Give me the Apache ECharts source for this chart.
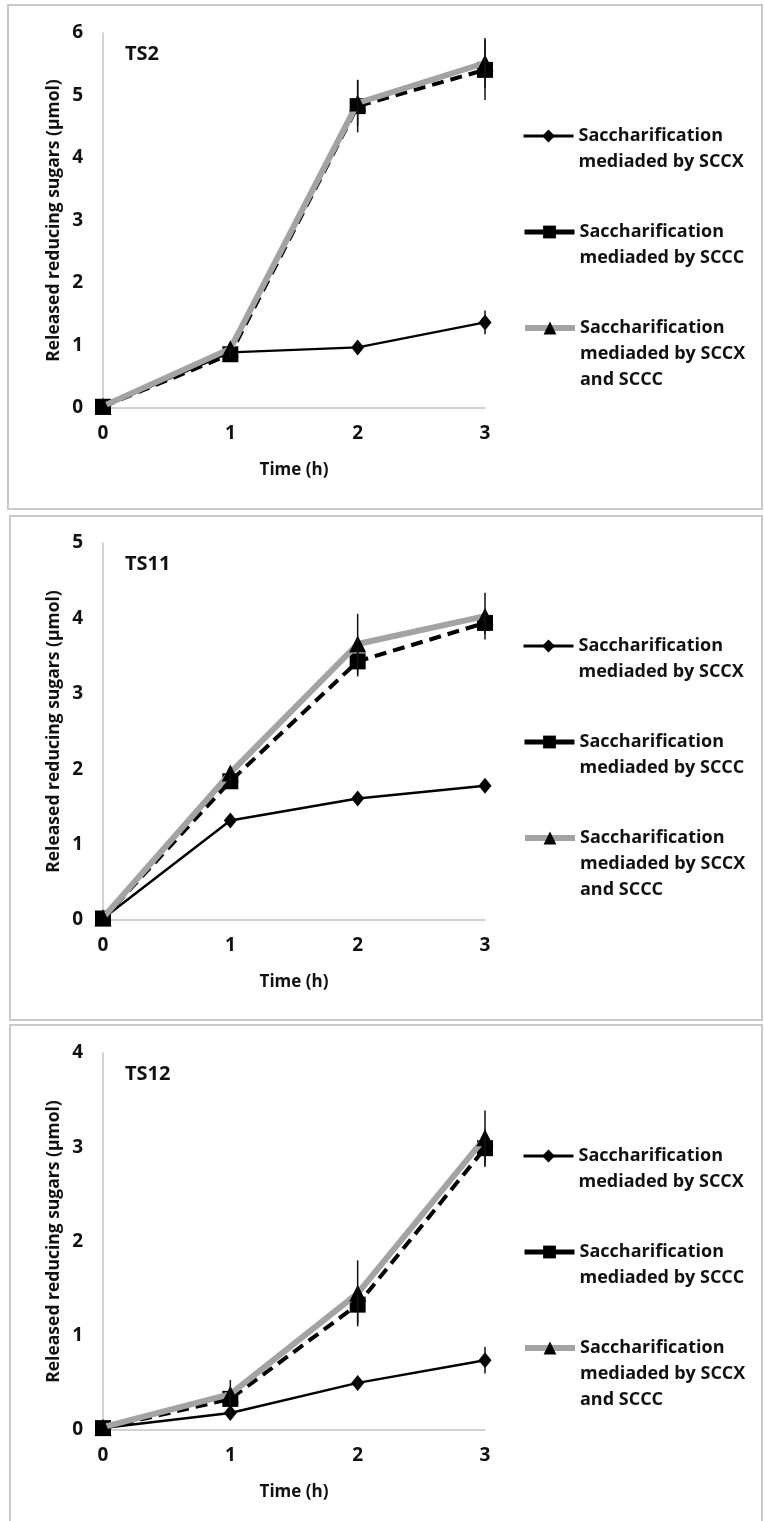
<!DOCTYPE html>
<html>
<head>
<meta charset="utf-8">
<script src="https://cdn.jsdelivr.net/npm/echarts@6/dist/echarts.min.js"></script>
<style>
html,body{margin:0;padding:0;background:#fff;}
#chart{width:764px;height:1521px;}
</style>
</head>
<body>
<div id="chart"></div>
<script>
// ---- data ----
const hours = [0, 1, 2, 3];
const panelNames = ['TS2', 'TS11', 'TS12'];
const yMax = [6, 5, 4];
const seriesNames = ['SCCX', 'SCCC', 'SCCX and SCCC'];
const legendLabels = {
  'SCCX': 'Saccharification\nmediaded by SCCX',
  'SCCC': 'Saccharification\nmediaded by SCCC',
  'SCCX and SCCC': 'Saccharification\nmediaded by SCCX\nand SCCC'
};
// TS2
const ts2_SCCX = [0.02, 0.89, 0.97, 1.37];
const ts2_SCCC = [0.02, 0.86, 4.83, 5.41];
const ts2_BOTH = [0.03, 0.95, 4.88, 5.52];
const ts2_SCCX_err = [0, 0.05, 0.10, 0.19];
const ts2_SCCC_err = [0, 0.05, 0.42, 0.48];
const ts2_BOTH_err = [0, 0.05, 0.37, 0.40];
// TS11
const ts11_SCCX = [0.02, 1.32, 1.61, 1.78];
const ts11_SCCC = [0.02, 1.84, 3.43, 3.94];
const ts11_BOTH = [0.03, 1.95, 3.66, 4.03];
const ts11_SCCX_err = [0, 0.02, 0.03, 0.03];
const ts11_SCCC_err = [0, 0.05, 0.20, 0.15];
const ts11_BOTH_err = [0, 0.05, 0.40, 0.31];
// TS12
const ts12_SCCX = [0.02, 0.18, 0.50, 0.74];
const ts12_SCCC = [0.02, 0.33, 1.33, 2.99];
const ts12_BOTH = [0.03, 0.38, 1.45, 3.10];
const ts12_SCCX_err = [0, 0.03, 0.05, 0.14];
const ts12_SCCC_err = [0, 0.10, 0.20, 0.20];
const ts12_BOTH_err = [0, 0.15, 0.35, 0.29];

const panels = [
  { vals: [ts2_SCCX, ts2_SCCC, ts2_BOTH], errs: [ts2_SCCX_err, ts2_SCCC_err, ts2_BOTH_err] },
  { vals: [ts11_SCCX, ts11_SCCC, ts11_BOTH], errs: [ts11_SCCX_err, ts11_SCCC_err, ts11_BOTH_err] },
  { vals: [ts12_SCCX, ts12_SCCC, ts12_BOTH], errs: [ts12_SCCX_err, ts12_SCCC_err, ts12_BOTH_err] }
];

// ---- layout ----
const FONT = 'Open Sans';
const gridTops = [33, 543, 1053];
const gridHeights = [375, 377, 377];
const boxes = [[8, 5, 754, 504], [10, 516, 752, 504], [10, 1025, 752, 520]];
const LH = 26;

const grids = [], xAxes = [], yAxes = [], series = [], titles = [], legends = [], graphics = [];

const styles = [
  { lineStyle: { color: '#000', width: 2.5, type: 'solid' }, symbol: 'diamond', symbolSize: [13, 16], itemStyle: { color: '#000' } },
  { lineStyle: { color: '#000', width: 4, type: [12, 7] }, symbol: 'rect', symbolSize: 16, itemStyle: { color: '#000' } },
  { lineStyle: { color: '#a3a3a3', width: 6, type: 'solid' }, symbol: 'triangle', symbolSize: 17, itemStyle: { color: '#000' } }
];
const legendLine = [
  { color: '#000', width: 3, type: 'solid' },
  { color: '#000', width: 5, type: 'solid' },
  { color: '#a3a3a3', width: 6, type: 'solid' }
];

panels.forEach((p, i) => {
  grids.push({ left: 103, right: 279, top: gridTops[i], height: gridHeights[i], containLabel: false });
  xAxes.push({
    type: 'value', gridIndex: i, min: 0, max: 3, interval: 1,
    axisLine: { show: true, lineStyle: { color: '#c4c4c4', width: 1.5 } },
    axisTick: { show: false }, splitLine: { show: false },
    axisLabel: { fontFamily: FONT, fontSize: 19, fontWeight: 'bold', color: '#111', margin: 16 },
    name: 'Time (h)', nameLocation: 'middle', nameGap: 54,
    nameTextStyle: { fontFamily: FONT, fontSize: 17, fontWeight: 'bold', color: '#111' }
  });
  yAxes.push({
    type: 'value', gridIndex: i, min: 0, max: yMax[i], interval: 1,
    axisLine: { show: true, onZero: false, lineStyle: { color: '#c4c4c4', width: 1.5 } },
    axisTick: { show: false }, splitLine: { show: false },
    axisLabel: { fontFamily: FONT, fontSize: 19, fontWeight: 'bold', color: '#111', margin: 20 },
    name: 'Released reducing sugars (µmol)', nameLocation: 'middle', nameGap: 40,
    nameTextStyle: { fontFamily: FONT, fontSize: 17.5, fontWeight: 'bold', color: '#111' }
  });
  titles.push({
    text: panelNames[i], left: 120, top: gridTops[i] + 6,
    textStyle: { fontFamily: FONT, fontSize: 20, fontWeight: 'bold', color: '#111' }
  });
  p.vals.forEach((v, k) => {
    series.push(Object.assign({
      name: seriesNames[k], type: 'line', xAxisIndex: i, yAxisIndex: i,
      data: hours.map((h, j) => [h, v[j]]),
      showSymbol: true, z: 3 + k, animation: false
    }, JSON.parse(JSON.stringify(styles[k]))));
  });
  // error bars
  const errData = [];
  p.vals.forEach((v, k) => {
    hours.forEach((h, j) => {
      if (p.errs[k][j] > 0) errData.push([h, v[j] - p.errs[k][j], v[j] + p.errs[k][j]]);
    });
  });
  series.push({
    type: 'custom', xAxisIndex: i, yAxisIndex: i, z: 10, animation: false, silent: true,
    data: errData,
    renderItem: function (params, api) {
      const a = api.coord([api.value(0), api.value(1)]);
      const b = api.coord([api.value(0), api.value(2)]);
      return { type: 'line', shape: { x1: a[0], y1: a[1], x2: b[0], y2: b[1] }, style: { stroke: '#111', lineWidth: 1.5 } };
    }
  });
  // legends (one per entry; blank leading lines keep the icon on the first text line)
  const iconY = [gridTops[i] + 103, gridTops[i] + 199, gridTops[i] + 295];
  seriesNames.forEach((nm, k) => {
    const n = legendLabels[nm].split('\n').length;
    const H = (2 * n - 1) * LH;
    legends.push({
      orient: 'vertical', left: 522, top: iconY[k] - H / 2, padding: 0,
      itemWidth: 50, itemHeight: 16,
      data: [{ name: nm, lineStyle: legendLine[k], itemStyle: { color: '#000' } }],
      formatter: (name) => {
        const t = legendLabels[name];
        return '\n'.repeat(t.split('\n').length - 1) + t;
      },
      textStyle: { fontFamily: FONT, fontSize: 18, fontWeight: 'bold', color: '#111', lineHeight: LH }
    });
  });
  graphics.push({
    type: 'rect', shape: { x: boxes[i][0], y: boxes[i][1], width: boxes[i][2], height: boxes[i][3] },
    style: { fill: 'none', stroke: '#c9c9c9', lineWidth: 2 }, z: -10, silent: true
  });
});

const chart = echarts.init(document.getElementById('chart'), null, { renderer: 'canvas' });
chart.setOption({
  backgroundColor: '#fff',
  animation: false,
  title: titles,
  grid: grids,
  xAxis: xAxes,
  yAxis: yAxes,
  legend: legends,
  series: series,
  graphic: graphics
});
</script>
</body>
</html>
